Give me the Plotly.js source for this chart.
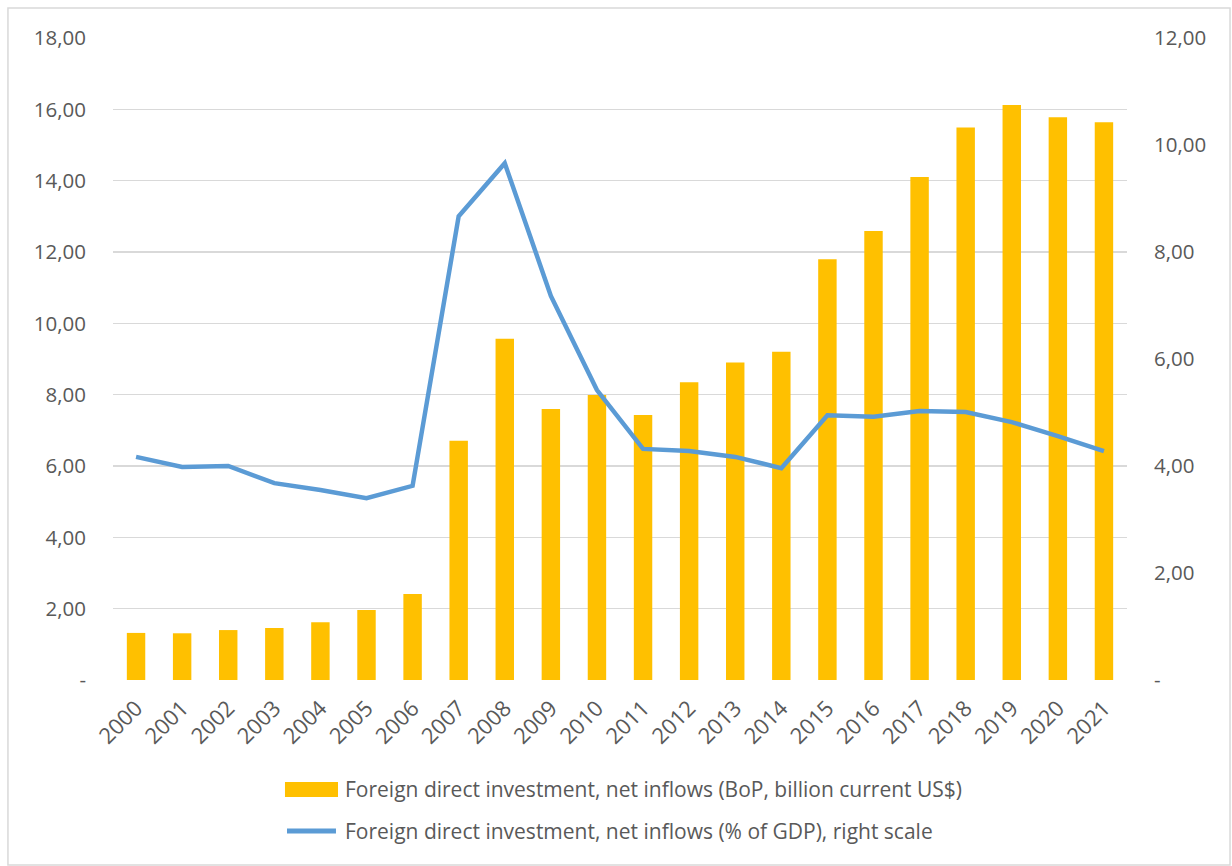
<!DOCTYPE html>
<html><head><meta charset="utf-8">
<script src="https://cdn.plot.ly/plotly-3.0.1.min.js"></script>
<style>body{margin:0;padding:0;background:#fff}#c{width:1232px;height:866px}</style>
</head><body><div id="c"></div>
<script>
const years = ["2000","2001","2002","2003","2004","2005","2006","2007","2008","2009","2010","2011","2012","2013","2014","2015","2016","2017","2018","2019","2020","2021"];
const fdiBillion = [1.32,1.31,1.40,1.46,1.62,1.96,2.41,6.71,9.57,7.60,7.99,7.43,8.35,8.90,9.20,11.80,12.59,14.10,15.49,16.12,15.78,15.64];
const fdiPctGdp = [4.17,3.98,4.00,3.68,3.55,3.40,3.63,8.67,9.66,7.18,5.42,4.32,4.28,4.17,3.96,4.95,4.92,5.03,5.01,4.82,4.56,4.28];
const leftTicks = [0,2,4,6,8,10,12,14,16,18];
const leftTickText = ["-","2,00","4,00","6,00","8,00","10,00","12,00","14,00","16,00","18,00"];
const rightTicks = [0,2,4,6,8,10,12];
const rightTickText = ["-","2,00","4,00","6,00","8,00","10,00","12,00"];
const barName = "Foreign direct investment, net inflows (BoP, billion current US$)";
const lineName = "Foreign direct investment, net inflows (% of GDP), right scale";

const barColor = "#FFC000", lineColor = "#5B9BD5";
const fam = "Open Sans, Liberation Sans, sans-serif";
const font = {family: fam, size: 20.5, color: "#595959"};
const xFont = {family: fam, size: 22, color: "#595959"};
const traces = [
  {type: "bar", x: years, y: fdiBillion, name: barName, marker: {color: barColor}, width: 0.4, yaxis: "y"},
  {type: "scatter", mode: "lines", x: years, y: fdiPctGdp, name: lineName, line: {color: lineColor, width: 4.5}, yaxis: "y2"}
];
const legendFont = {family: fam, size: 21, color: "#595959"};
const layout = {
  width: 1232, height: 866,
  margin: {l: 113, r: 105, t: 38, b: 186},
  paper_bgcolor: "#fff", plot_bgcolor: "#fff",
  font: font,
  showlegend: false,
  xaxis: {type: "category", tickangle: -45, tickfont: xFont, showgrid: false, showline: false, ticks: "", zeroline: false, ticklabelstandoff: 10},
  yaxis: {range: [0, 18], tickvals: leftTicks, ticktext: leftTickText, tickfont: font, gridcolor: "#D9D9D9", gridwidth: 1.5, zeroline: false, ticks: "", ticklabelstandoff: 26, showline: false},
  yaxis2: {range: [0, 12], overlaying: "y", side: "right", tickvals: rightTicks, ticktext: rightTickText, tickfont: font, showgrid: false, zeroline: false, ticks: "", ticklabelstandoff: 26},
  shapes: [
    {type: "rect", xref: "paper", yref: "paper", x0: -0.1036, x1: 1.1016, y0: -0.288, y1: 1.0467, line: {color: "#D9D9D9", width: 1.5}, fillcolor: "rgba(0,0,0,0)", layer: "below"},
    {type: "rect", xref: "paper", yref: "paper", x0: 0.1696, x1: 0.2219, y0: -0.1822, y1: -0.1589, line: {width: 0}, fillcolor: barColor},
    {type: "line", xref: "paper", yref: "paper", x0: 0.1716, x1: 0.2199, y0: -0.2352, y1: -0.2352, line: {color: lineColor, width: 5}}
  ],
  annotations: [
    {xref: "paper", yref: "paper", x: 0.2268, y: -0.1698, xanchor: "left", yanchor: "middle", text: barName, showarrow: false, font: legendFont},
    {xref: "paper", yref: "paper", x: 0.2268, y: -0.2352, xanchor: "left", yanchor: "middle", text: lineName, showarrow: false, font: legendFont}
  ]
};
Plotly.newPlot("c", traces, layout, {displayModeBar: false, staticPlot: true});
</script></body></html>
